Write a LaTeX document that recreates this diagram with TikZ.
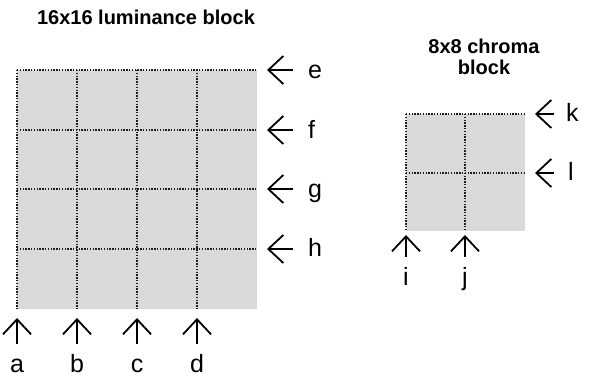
\documentclass[tikz,border=0pt]{standalone}
\usepackage{fontspec}
\setmainfont{Liberation Sans}
\usetikzlibrary{arrows.meta}

\definecolor{blockgray}{RGB}{218,218,218}
\definecolor{dotgray}{RGB}{30,30,30}

\begin{document}
\begin{tikzpicture}[x=1pt,y=-1pt,
  grid/.style={dotgray,line width=1.4pt,dash pattern=on 1.3pt off 1.5pt},
  arr/.style={-{Straight Barb[length=15pt,width=28pt]},line width=1.8pt},
  lbl/.style={font=\fontsize{25}{25}\selectfont,inner sep=0pt,text height=18pt,text depth=0pt},
  title/.style={font=\fontsize{20}{21}\selectfont\bfseries,align=center}]
  \useasboundingbox (0,0) rectangle (590,376);

  % luminance block
  \node[title] (lumtitle) at (146,17) {16x16 luminance block};
  \fill[blockgray] (17,70) rectangle (257,309);
  \draw[grid] (17,70) -- (257,70);
  \draw[grid] (17,130) -- (257,130);
  \draw[grid] (17,189) -- (257,189);
  \draw[grid] (17,249) -- (257,249);
  \draw[grid] (17,70) -- (17,309);
  \draw[grid] (77,70) -- (77,309);
  \draw[grid] (137,70) -- (137,309);
  \draw[grid] (197,70) -- (197,309);

  % chroma block
  \node[title] (chrtitle) at (484,57) {8x8 chroma\\block};
  \fill[blockgray] (406,114) rectangle (525,231);
  \draw[grid] (406,114) -- (525,114);
  \draw[grid] (406,173) -- (525,173);
  \draw[grid] (406,114) -- (406,231);
  \draw[grid] (465,114) -- (465,231);

  % row labels
  \node[lbl,anchor=base west] (e) at (308,78) {e};
  \node[lbl,anchor=base west] (f) at (308,138) {f};
  \node[lbl,anchor=base west] (g) at (308,197) {g};
  \node[lbl,anchor=base west] (h) at (308,256) {h};
  \node[lbl,anchor=base west] (k) at (566,121) {k};
  \node[lbl,anchor=base west] (l) at (568,180) {l};
  \coordinate (te) at (267,70);
  \coordinate (tf) at (267,130);
  \coordinate (tg) at (267,189);
  \coordinate (th) at (267,249);
  \coordinate (tk) at (535,114);
  \coordinate (tl) at (535,173);
  \draw[arr,shorten <=15pt] (e.west |- te) -- (te);
  \draw[arr,shorten <=15pt] (f.west |- tf) -- (tf);
  \draw[arr,shorten <=15pt] (g.west |- tg) -- (tg);
  \draw[arr,shorten <=15pt] (h.west |- th) -- (th);
  \draw[arr,shorten <=12pt] (k.west |- tk) -- (tk);
  \draw[arr,shorten <=14pt] (l.west |- tl) -- (tl);

  % column labels
  \node[lbl,anchor=base] (a) at (17,372) {a};
  \node[lbl,anchor=base] (b) at (77,372) {b};
  \node[lbl,anchor=base] (c) at (137,372) {c};
  \node[lbl,anchor=base] (d) at (197,372) {d};
  \node[lbl,anchor=base] (i) at (406,285) {i};
  \node[lbl,anchor=base] (j) at (465,285) {j};
  \coordinate (ta) at (17,318);
  \coordinate (tb) at (77,318);
  \coordinate (tc) at (137,318);
  \coordinate (td) at (197,318);
  \coordinate (ti) at (406,235);
  \coordinate (tj) at (465,235);
  \draw[arr,shorten <=10pt] (a.north) -- (ta);
  \draw[arr,shorten <=10pt] (b.north) -- (tb);
  \draw[arr,shorten <=10pt] (c.north) -- (tc);
  \draw[arr,shorten <=10pt] (d.north) -- (td);
  \draw[arr,shorten <=10pt] (i.north) -- (ti);
  \draw[arr,shorten <=10pt] (j.north) -- (tj);
\end{tikzpicture}
\end{document}
